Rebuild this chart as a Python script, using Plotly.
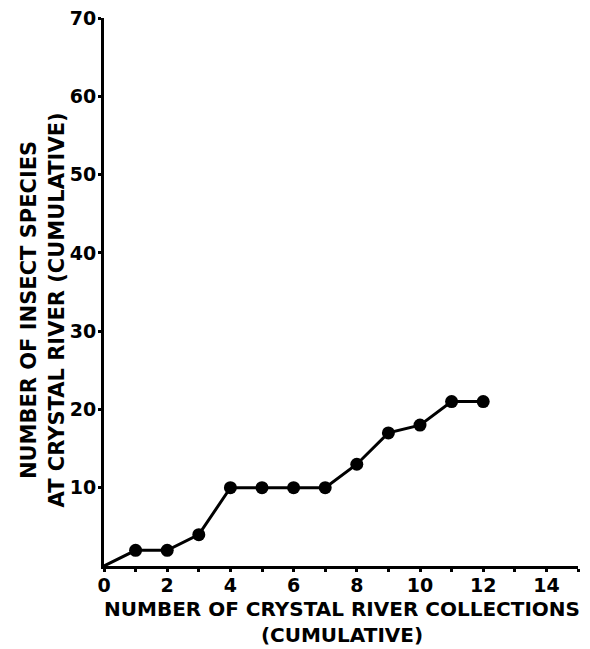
import plotly.graph_objects as go

collections = [0, 1, 2, 3, 4, 5, 6, 7, 8, 9, 10, 11, 12]
species = [0, 2, 2, 4, 10, 10, 10, 10, 13, 17, 18, 21, 21]
x_ticks = [0, 2, 4, 6, 8, 10, 12, 14]
y_ticks = [10, 20, 30, 40, 50, 60, 70]

FONT = "DejaVu Sans"
fig = go.Figure()
fig.add_trace(go.Scatter(
    x=collections, y=species, mode="lines",
    line=dict(color="black", width=3), showlegend=False, hoverinfo="skip"))
fig.add_trace(go.Scatter(
    x=collections[1:], y=species[1:], mode="markers",
    marker=dict(color="black", size=13), showlegend=False))

axis_common = dict(showgrid=False, zeroline=False, showline=True, linecolor="black", linewidth=3,
                   ticks="outside", ticklen=3, tickwidth=3, tickcolor="black",
                   ticklabeloverflow="allow",
                   tickfont=dict(size=19, family=FONT, weight="bold"))

fig.update_layout(
    width=582, height=641,
    margin=dict(l=96, r=12, t=10, b=83, autoexpand=False),
    paper_bgcolor="white", plot_bgcolor="white",
    font=dict(family=FONT, color="black", size=19),
    xaxis=dict(range=[0, 15], tickvals=x_ticks, ticktext=[str(v) for v in x_ticks],
               minor=dict(dtick=1, tick0=0, ticks="outside", ticklen=3, tickwidth=3, tickcolor="black"),
               ticklabelstandoff=-3, **axis_common),
    yaxis=dict(range=[0, 70], tickvals=y_ticks, ticktext=[str(v) for v in y_ticks],
               ticklabelstandoff=-2, **axis_common),
    annotations=[
        dict(text="NUMBER OF CRYSTAL RIVER COLLECTIONS<br>(CUMULATIVE)", xref="paper", yref="paper",
             x=0.502, y=-0.053, xanchor="center", yanchor="top", showarrow=False,
             font=dict(size=20, family=FONT, weight="bold")),
        dict(text="NUMBER OF INSECT SPECIES<br>AT CRYSTAL RIVER (CUMULATIVE)", xref="paper", yref="paper",
             x=-0.13, y=0.467, xanchor="center", yanchor="middle", showarrow=False, textangle=-90,
             font=dict(size=21, family=FONT, weight="bold")),
    ],
)
fig.write_html("out.html")
